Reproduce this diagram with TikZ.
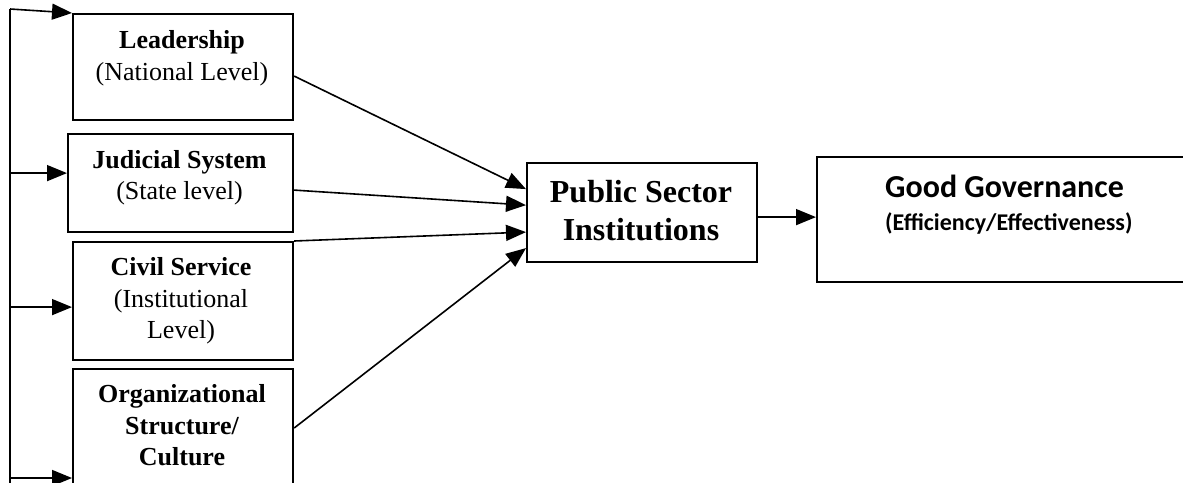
\documentclass[tikz,border=0pt]{standalone}
\usepackage{fontspec}
\setmainfont{Liberation Serif}
\newfontfamily\calib{Carlito}
\usetikzlibrary{arrows.meta}
\begin{document}
\begin{tikzpicture}[x=1pt,y=-1pt,
  box/.style={draw,line width=2.2pt,inner sep=0pt},
  arr/.style={line width=1.6pt,-{Triangle[length=20pt,width=16pt]}},
  lbl/.style={inner sep=0pt,anchor=base,font=\fontsize{26}{31}\selectfont},
  lblb/.style={lbl,font=\fontsize{26}{31}\selectfont\bfseries},
  ptext/.style={inner sep=0pt,anchor=base,font=\fontsize{32}{38}\selectfont\bfseries},
]
\useasboundingbox (0,0) rectangle (1183,482);
\clip (0,0) rectangle (1183,482);

% boxes, given by their corners
\node[box,minimum width=220pt,minimum height=106pt,anchor=north west] (lead) at (72,13) {};
\node[box,minimum width=225pt,minimum height=98pt,anchor=north west] (jud) at (67,133) {};
\node[box,minimum width=220pt,minimum height=118pt,anchor=north west] (civ) at (72,241) {};
\node[box,minimum width=220pt,minimum height=140pt,anchor=north west] (org) at (72,368) {};
\node[box,minimum width=230pt,minimum height=99pt,anchor=north west] (pub) at (526,162) {};
\node[box,minimum width=400pt,minimum height=125pt,anchor=north west] (good) at (816,156) {};

% box texts
\node[lblb] (leadA) at (182,48) {Leadership};
\node[lbl]  (leadB) at (182,80) {(National Level)};
\node[lblb] (judA) at (179.5,168) {Judicial System};
\node[lbl]  (judB) at (179.5,199) {(State level)};
\node[lblb] (civA) at (181,275) {Civil Service};
\node[lbl]  (civB) at (181,307) {(Institutional};
\node[lbl]  (civC) at (181,338) {Level)};
\node[lblb] (orgA) at (182,402) {Organizational};
\node[lblb] (orgB) at (182,434) {Structure/};
\node[lblb] (orgC) at (182,465) {Culture};
\node[ptext] (pubA) at (641,202) {Public Sector};
\node[ptext] (pubB) at (641,240) {Institutions};
\node[inner sep=0pt,anchor=base west,font=\calib\fontsize{32}{38}\selectfont\bfseries] (goodA) at (885,197) {Good Governance};
\node[inner sep=0pt,anchor=base west,font=\calib\fontsize{24}{30}\selectfont\bfseries] (goodB) at (885,230) {(Efficiency/Effectiveness)};

% feedback rail on the left
\coordinate (railtop) at (10,9);
\coordinate (railbot) at (10,490);
\draw[line width=2pt] (railtop) -- (railbot);
\draw[arr] (railtop) -- (lead.north west);
\draw[arr] ([yshift=10pt]jud.west -| railtop) -- ([yshift=10pt]jud.west);
\draw[arr] ([yshift=-6pt]civ.west -| railtop) -- ([yshift=-6pt]civ.west);
\draw[arr] ([yshift=-110pt]org.north west -| railtop) -- ([yshift=-110pt]org.north west);

% determinants into the public sector
\draw[arr] ([yshift=-9pt]lead.east) -- ([yshift=23.5pt]pub.west);
\draw[arr] ([yshift=-7pt]jud.east) -- ([yshift=7.5pt]pub.west);
\draw[arr] (civ.north east) -- ([yshift=-19.5pt]pub.west);
\draw[arr] ([yshift=-60pt]org.north east) -- ([yshift=-35.5pt]pub.west);

% outcome
\draw[arr] ([yshift=-4.5pt]pub.east) -- ([yshift=2.5pt]good.west);
\end{tikzpicture}
\end{document}
